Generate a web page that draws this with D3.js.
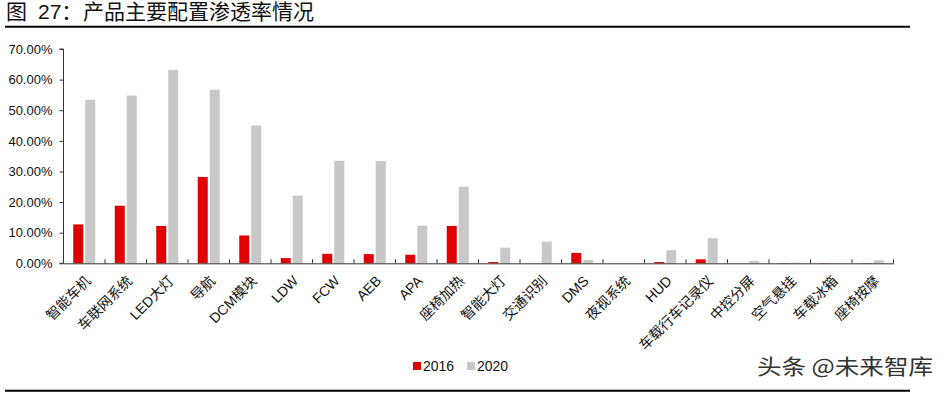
<!DOCTYPE html>
<html>
<head>
<meta charset="utf-8">
<script src="https://cdn.jsdelivr.net/npm/d3@7"></script>
<style>
  body { margin: 0; background: #fff; }
  #chart { position: relative; width: 946px; height: 394px; }
  svg { display: block; font-family: Arial, "Liberation Sans", "Noto Sans CJK SC", sans-serif; }
  .ttl { position: absolute; top: 0; font-size: 21px; line-height: 24px; color: #111; white-space: pre;
         font-family: Arial, "Noto Sans CJK SC", sans-serif; }
</style>
</head>
<body>
<div id="chart"></div>
<script>
// categories and penetration rates (%)
var categories = ["智能车机", "车联网系统", "LED大灯", "导航", "DCM模块", "LDW", "FCW", "AEB", "APA", "座椅加热",
  "智能大灯", "交通识别", "DMS", "夜视系统", "HUD", "车载行车记录仪", "中控分屏", "空气悬挂", "车载冰箱", "座椅按摩"];
var v2016 = [12.7, 18.8, 12.2, 28.2, 9.1, 1.7, 3.1, 3.0, 2.8, 12.2, 0.4, 0, 3.4, 0, 0.4, 1.3, 0, 0.1, 0.1, 0.1];
var v2020 = [53.4, 54.8, 63.2, 56.7, 45.0, 22.1, 33.5, 33.4, 12.3, 25.0, 5.1, 7.1, 1.1, 0, 4.3, 8.2, 0.8, 0.2, 0.1, 1.0];
var yTicks = [0, 10, 20, 30, 40, 50, 60, 70];
var series = ["2016", "2020"];
var colors = ["#e00000", "#c8c8c8"];

var w = 946, h = 394;
var chart = d3.select("#chart");
var svg = chart.append("svg").attr("width", w).attr("height", h);

// title (html so the CJK ascent isn't clipped at the top edge)
var titleParts = [["图", 6], ["27：", 38], ["产品主要配置渗透率情况", 83]];
chart.selectAll(".ttl").data(titleParts).enter().append("div")
  .attr("class", "ttl")
  .style("left", function(d) { return d[1] + "px"; })
  .text(function(d) { return d[0]; });

svg.append("line").attr("x1", 5).attr("x2", 910).attr("y1", 26.7).attr("y2", 26.7)
  .attr("stroke", "#000").attr("stroke-width", 2);
svg.append("line").attr("x1", 5).attr("x2", 910).attr("y1", 390.7).attr("y2", 390.7)
  .attr("stroke", "#000").attr("stroke-width", 2);

var x0 = 63.5, x1 = 893.5, yTop = 49, yBot = 263.3;

var x = d3.scaleBand().domain(categories).range([x0, x1]);
var y = d3.scaleLinear().domain([0, 70]).range([yBot, yTop]);

var rows = categories.map(function(c, i) {
  return { cat: c, vals: [v2016[i], v2020[i]] };
});

// bars
var barW = 10, gap = 2;
var g = svg.append("g");
rows.forEach(function(r) {
  r.vals.forEach(function(v, j) {
    if (v <= 0) return;
    var bx = x(r.cat) + x.bandwidth() / 2 - barW - gap / 2 + j * (barW + gap);
    g.append("rect")
      .attr("x", bx).attr("width", barW)
      .attr("y", y(v)).attr("height", yBot - y(v))
      .attr("fill", colors[j]);
  });
});

// y axis
var yAxis = d3.axisLeft(y).tickValues(yTicks).tickSize(4)
  .tickFormat(function(d) { return d.toFixed(2) + "%"; });
var ya = svg.append("g").attr("transform", "translate(" + x0 + ",0)").call(yAxis);
ya.select(".domain").attr("stroke", "#333").attr("d", "M-4," + yTop + "H0V" + yBot + "H-4");
ya.selectAll(".tick line").attr("stroke", "#333");
ya.selectAll(".tick text").attr("font-size", 13).attr("fill", "#111").attr("x", -11);

// x axis
var xAxis = d3.axisBottom(x).tickSize(0).tickFormat("");
var xa = svg.append("g").attr("transform", "translate(0," + yBot + ")").call(xAxis);
xa.select(".domain").attr("stroke", "#333");
xa.selectAll(".sep").data(categories.concat(["end"])).enter().append("line")
  .attr("x1", function(d, i) { return x0 + i * x.step(); })
  .attr("x2", function(d, i) { return x0 + i * x.step(); })
  .attr("y1", 0).attr("y2", -4).attr("stroke", "#333");

svg.append("g").selectAll("text").data(categories).enter().append("text")
  .attr("transform", function(d) {
    return "translate(" + (x(d) + x.bandwidth() / 2 + 4) + "," + (yBot + 15) + ") rotate(-45)";
  })
  .attr("text-anchor", "end")
  .attr("dy", "0.35em")
  .attr("font-size", 14).attr("fill", "#111")
  .text(function(d) { return d; });

// legend
var leg = svg.append("g").attr("transform", "translate(413,362)");
series.forEach(function(s, i) {
  var lx = i * 54;
  leg.append("rect").attr("x", lx).attr("y", 0).attr("width", 8).attr("height", 8).attr("fill", colors[i]);
  leg.append("text").attr("x", lx + 10).attr("y", 8.5).attr("font-size", 14).attr("fill", "#111").text(s);
});

// watermark
svg.append("text").attr("x", 757).attr("y", 374)
  .attr("font-size", 21).attr("fill", "#333")
  .attr("font-family", "'Noto Sans CJK SC', sans-serif")
  .attr("textLength", 176).attr("lengthAdjust", "spacingAndGlyphs")
  .text("头条 @未来智库");
</script>
</body>
</html>
